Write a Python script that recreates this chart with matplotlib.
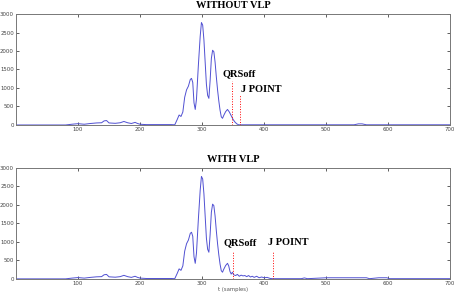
import matplotlib
matplotlib.use('Agg')
import matplotlib.pyplot as plt

# QRS complex (common to both records)
t_qrs = [250, 256, 260, 263, 266, 269, 272, 275, 278, 281, 283, 285, 287, 289,
         291, 294, 297, 299, 301, 303, 305, 307, 309, 311, 313, 315, 317, 319,
         321, 323, 325, 327, 329, 331, 333, 335, 338, 341]
v_qrs = [10, 5, 150, 270, 230, 350, 750, 950, 1050, 1230, 1260, 1150, 600, 420,
         700, 1600, 2400, 2770, 2700, 2300, 1700, 1100, 800, 720, 1200, 1800, 2020, 1980,
         1700, 1300, 950, 650, 400, 220, 180, 260, 360, 420]

# baseline before the QRS
t_pre = [0, 80, 90, 100, 110, 120, 130, 138, 142, 146, 150, 160, 168, 174, 180,
         186, 192, 196, 200, 210, 230, 245]
v_pre = [0, 0, 20, 35, 20, 40, 55, 60, 110, 120, 55, 45, 60, 95, 60,
         40, 70, 40, 20, 10, 10, 10]

# end of the QRS, without VLP
t_end1 = [344, 347, 350, 353, 356, 359, 400, 545, 552, 558, 565, 700]
v_end1 = [350, 250, 150, 80, 30, 5, 5, 5, 30, 30, 5, 5]

# end of the QRS, with VLP (late potentials)
t_end2 = [343, 345, 347, 349, 351, 354, 357, 360, 363, 366, 369, 372, 375, 378,
          381, 384, 388, 392, 396, 400, 405, 410, 414, 460, 465, 470, 500, 565,
          570, 585, 598, 602, 700]
v_end2 = [350, 200, 130, 180, 110, 90, 120, 70, 100, 80, 90, 60, 90, 50,
          70, 40, 70, 30, 50, 30, 40, 10, 5, 5, 25, 5, 30, 30,
          5, 30, 30, 5, 5]

qrs_off = [349, 350]
j_point = [361, 414]
titles = ['WITHOUT VLP', 'WITH VLP']

t_top = t_pre + t_qrs + t_end1
v_top = v_pre + v_qrs + v_end1
t_bot = t_pre + t_qrs + t_end2
v_bot = v_pre + v_qrs + v_end2

fig = plt.figure(figsize=(4.57, 2.92), dpi=100)
ax1 = fig.add_axes([0.035, 0.572, 0.950, 0.380])
ax2 = fig.add_axes([0.035, 0.045, 0.950, 0.380])

serif = 'Liberation Serif'
for i, (ax, t, v) in enumerate([(ax1, t_top, v_top), (ax2, t_bot, v_bot)]):
    ax.plot(t, v, color='#5050d2', lw=0.7)
    ax.set_xlim(0, 700)
    ax.set_ylim(0, 3000)
    ax.set_xticks(range(100, 701, 100))
    ax.set_yticks(range(0, 3001, 500))
    ax.tick_params(direction='in', length=2.5, width=0.6, labelsize=3.9,
                   top=True, right=True, colors='#444444', pad=1.5)
    for s in ax.spines.values():
        s.set_color('#777777')
        s.set_linewidth(0.7)
    ax.set_title(titles[i], fontsize=7.5, fontweight='bold', family=serif, pad=4)

# markers, top
ax1.plot([qrs_off[0], qrs_off[0]], [0, 1200], color='red', ls=':', lw=0.7)
ax1.plot([j_point[0], j_point[0]], [0, 800], color='red', ls=':', lw=0.7)
ax1.text(333, 1380, 'QRSoff', fontsize=7.5, fontweight='bold', family=serif, va='center')
ax1.text(362, 970, 'J POINT', fontsize=7.5, fontweight='bold', family=serif, va='center')

# markers, bottom
ax2.plot([qrs_off[1], qrs_off[1]], [0, 750], color='red', ls=':', lw=0.7)
ax2.plot([j_point[1], j_point[1]], [0, 750], color='red', ls=':', lw=0.7)
ax2.text(335, 980, 'QRSoff', fontsize=7.5, fontweight='bold', family=serif, va='center')
ax2.text(407, 980, 'J POINT', fontsize=7.5, fontweight='bold', family=serif, va='center')

ax2.set_xlabel('t (samples)', fontsize=3.8, color='#555555', labelpad=1)

fig.savefig('out.png', dpi=100)
